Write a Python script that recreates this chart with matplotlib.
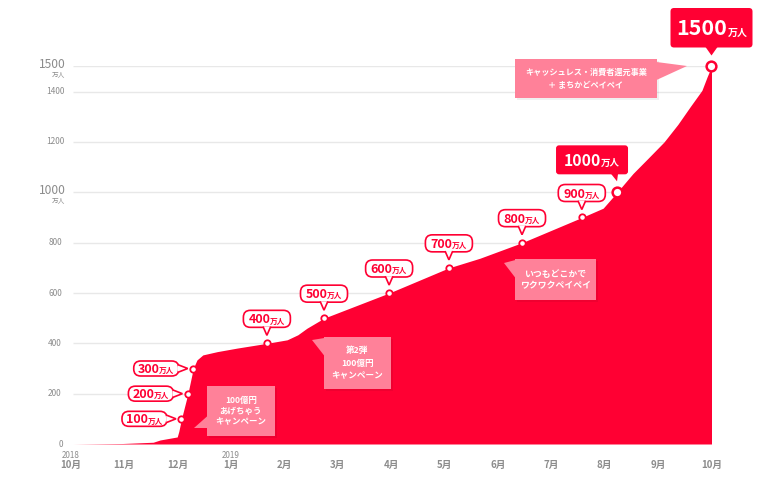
import matplotlib
matplotlib.use('Agg')
import matplotlib.pyplot as plt
from matplotlib.patches import FancyBboxPatch, Polygon

FONT = ['Noto Sans CJK JP', 'DejaVu Sans']
plt.rcParams['font.family'] = FONT

RED = '#ff0033'
PINK = '#ff8199'
GRAY = '#8c8c8c'
GRID = '#e8e8e8'

# ---------------- data ----------------
month_labels = ['10月', '11月', '12月', '1月', '2月', '3月', '4月',
                '5月', '6月', '7月', '8月', '9月', '10月']
year_labels = ['2018', '', '', '2019', '', '', '', '', '', '', '', '', '']
grid_values = [0, 200, 400, 600, 800, 1000, 1200, 1400, 1500]
small_tick_values = [0, 200, 400, 600, 800, 1200, 1400]
big_tick_values = [1000, 1500]

# months since Oct 2018 vs. users (万人)
curve_month = [0.04, 0.97, 1.54, 1.67, 1.99, 2.02, 2.07, 2.19, 2.29, 2.36,
               2.47, 2.74, 3.11, 3.67, 4.05, 4.25, 4.42, 4.74, 5.96, 7.08,
               7.66, 8.45, 9.57, 9.97, 10.23, 10.53, 10.81, 11.11, 11.37,
               11.60, 11.82, 11.92, 12.0]
curve_users = [0, 2, 7, 16, 28, 50, 100, 200, 300, 334,
               354, 367, 381, 400, 414, 434, 460, 500, 600, 700,
               738, 800, 900, 937, 1000, 1075, 1135, 1200, 1270,
               1340, 1405, 1460, 1500]

milestone_month = [2.07, 2.19, 2.29, 3.67, 4.74, 5.96, 7.08, 8.45, 9.57, 10.23, 12.0]
milestone_users = [100, 200, 300, 400, 500, 600, 700, 800, 900, 1000, 1500]

campaign_texts = ['100億円\nあげちゃう\nキャンペーン',
                  '第2弾\n100億円\nキャンペーン',
                  'いつもどこかで\nワクワクペイペイ',
                  'キャッシュレス・消費者還元事業\n＋ まちかどペイペイ']

# ---------------- figure ----------------
W, H = 775, 486
fig = plt.figure(figsize=(W / 100, H / 100), dpi=100)
fig.patch.set_facecolor('white')
x0px, x1px = 71, 711.5
y0px, y1px = 444, 66.5
ax = fig.add_axes([x0px / W, (H - y0px) / H, (x1px - x0px) / W, (y0px - y1px) / H])
ax.set_xlim(0, 12)
ax.set_ylim(0, 1500)
ax.axis('off')

ax.hlines(grid_values[1:], 0.03, 12, color=GRID, lw=1, zorder=1)
ax.fill_between(curve_month, curve_users, 0, color=RED, lw=0, zorder=2)

ax.plot(milestone_month[:-2], milestone_users[:-2], 'o', ms=4.6, mfc='white', mec=RED,
        mew=1.3, zorder=6, clip_on=False)
ax.plot(milestone_month[-2:], milestone_users[-2:], 'o', ms=7, mfc='white', mec=RED,
        mew=1.8, zorder=6, clip_on=False)

ov = fig.add_axes([0, 0, 1, 1], zorder=5)
ov.set_xlim(0, W)
ov.set_ylim(H, 0)
ov.axis('off')
ov.patch.set_alpha(0)

renderer = fig.canvas.get_renderer()


def to_px(x, y):
    d = ax.transData.transform((x, y))
    return ov.transData.inverted().transform(d)


def text_width(s, size, weight='bold'):
    t = ov.text(0, 0, s, fontsize=size, fontweight=weight)
    w = t.get_window_extent(renderer).width
    t.remove()
    return w


def value_label(cx, cy, num, nsize, usize, color, gap=-0.5):
    wn = text_width(num, nsize)
    wu = text_width('万人', usize)
    left = cx - (wn + wu + gap) / 2
    base = cy + nsize * 100 / 72 * 0.37
    ov.text(left, base, num, fontsize=nsize, fontweight='bold', color=color,
            ha='left', va='baseline', zorder=10)
    ov.text(left + wn + gap, base, '万人', fontsize=usize, fontweight='bold', color=color,
            ha='left', va='baseline', zorder=10)


def rbox(x, y, w, h, r, fc, ec, lw=1.2):
    p = FancyBboxPatch((x, y), w, h, boxstyle=f'round,pad=0,rounding_size={r}',
                       fc=fc, ec=ec, lw=lw, zorder=7)
    ov.add_patch(p)


# ---- y tick labels ----
for v in small_tick_values:
    _, py = to_px(0, v)
    cx = 60.5 if v == 0 else 55
    ov.text(cx, py, f'{v}', fontsize=6, color=GRAY, ha='center', va='center')
for v in big_tick_values:
    _, py = to_px(0, v)
    ov.text(66, py - 1.5, f'{v}', fontsize=8.7, color=GRAY, ha='right', va='center')
    ov.text(65.5, py + 8, '万人', fontsize=4.8, color=GRAY, ha='right', va='center')

# ---- x tick labels ----
for i, (ml, yl) in enumerate(zip(month_labels, year_labels)):
    px, _ = to_px(i, 0)
    ov.text(px, 464.5, ml, fontsize=7, color=GRAY, ha='center', va='center',
            fontweight='bold')
    if yl:
        ov.text(px, 455, yl, fontsize=5.8, color=GRAY, ha='center', va='center')

# ---- milestone bubbles ----
for i, (m, u) in enumerate(zip(milestone_month, milestone_users)):
    mx, my = to_px(m, u)
    num = f'{u}'
    if i < 3:
        bw, bh = 45, 15
        right = mx - 14.5
        rbox(right - bw, my - bh / 2, bw, bh, 7, 'white', RED)
        ov.add_patch(Polygon([(right - 0.8, my - 3.5), (right + 9, my), (right - 0.8, my + 3.5)],
                             closed=True, fc='white', ec='none', zorder=8))
        ov.plot([right, right + 9, right], [my - 3.5, my, my + 3.5], color=RED, lw=1.2,
                zorder=9, solid_joinstyle='miter')
        value_label(right - bw / 2, my, num, 9, 5.5, RED)
    elif i < 9:
        bw, bh = 47, 17
        bottom = my - 16
        rbox(mx - bw / 2, bottom - bh, bw, bh, 7, 'white', RED)
        ov.add_patch(Polygon([(mx - 3.5, bottom - 0.8), (mx, bottom + 8), (mx + 3.5, bottom - 0.8)],
                             closed=True, fc='white', ec='none', zorder=8))
        ov.plot([mx - 3.5, mx, mx + 3.5], [bottom, bottom + 8, bottom], color=RED, lw=1.2,
                zorder=9, solid_joinstyle='miter')
        value_label(mx, bottom - bh / 2, num, 9, 5.5, RED)
    elif i == 9:
        bw, bh = 72, 29
        right = mx + 11
        rbox(right - bw, my - 47, bw, bh, 3, RED, 'none')
        ov.add_patch(Polygon([(mx - 6, my - 18.5), (mx, my - 11), (mx + 1, my - 18.5)],
                             closed=True, fc=RED, ec='none', zorder=8))
        value_label(right - bw / 2, my - 32.5, num, 11.3, 6.8, 'white', gap=0)
    else:
        bw, bh = 82, 39.5
        rbox(mx - 41, my - 58.5, bw, bh, 3.5, RED, 'none')
        ov.add_patch(Polygon([(mx - 6, my - 19.5), (mx, my - 11), (mx + 6, my - 19.5)],
                             closed=True, fc=RED, ec='none', zorder=8))
        value_label(mx + 0.5, my - 39, num, 15.5, 7.2, 'white', gap=0.5)

# ---- campaign boxes (pixel layout) ----
boxes = [
    dict(rect=(207, 386, 68, 50), tail=[(207.5, 416), (194, 428), (207.5, 428)],
         c=(241, 411), size=6.1, ls=1.25),
    dict(rect=(324, 337, 67, 52), tail=[(324.5, 338), (312, 340), (324.5, 356)],
         c=(357.5, 363), size=6.2, ls=1.45),
    dict(rect=(515, 259, 81, 41), tail=[(515.5, 260), (504, 263), (515.5, 278)],
         c=(555.5, 280), size=6.4, ls=1.3),
    dict(rect=(515, 59, 142, 39), tail=[(656.5, 62), (687, 66), (656.5, 80)],
         c=(586, 79), size=5.9, ls=1.55),
]
for b, txt in zip(boxes, campaign_texts):
    x, y, w, h = b['rect']
    ov.add_patch(FancyBboxPatch((x + 1.5, y + 2), w, h, boxstyle='square,pad=0',
                                fc='#000000', alpha=0.06, ec='none', zorder=6))
    ov.add_patch(FancyBboxPatch((x, y), w, h, boxstyle='square,pad=0',
                                fc=PINK, ec='none', zorder=7))
    ov.add_patch(Polygon(b['tail'], closed=True, fc=PINK, ec='none', zorder=7))
    ov.text(b['c'][0], b['c'][1], txt, fontsize=b['size'], color='white', ha='center',
            va='center', fontweight='bold', linespacing=b['ls'], multialignment='center',
            zorder=8)

fig.savefig('out.png', dpi=100, facecolor='white')
